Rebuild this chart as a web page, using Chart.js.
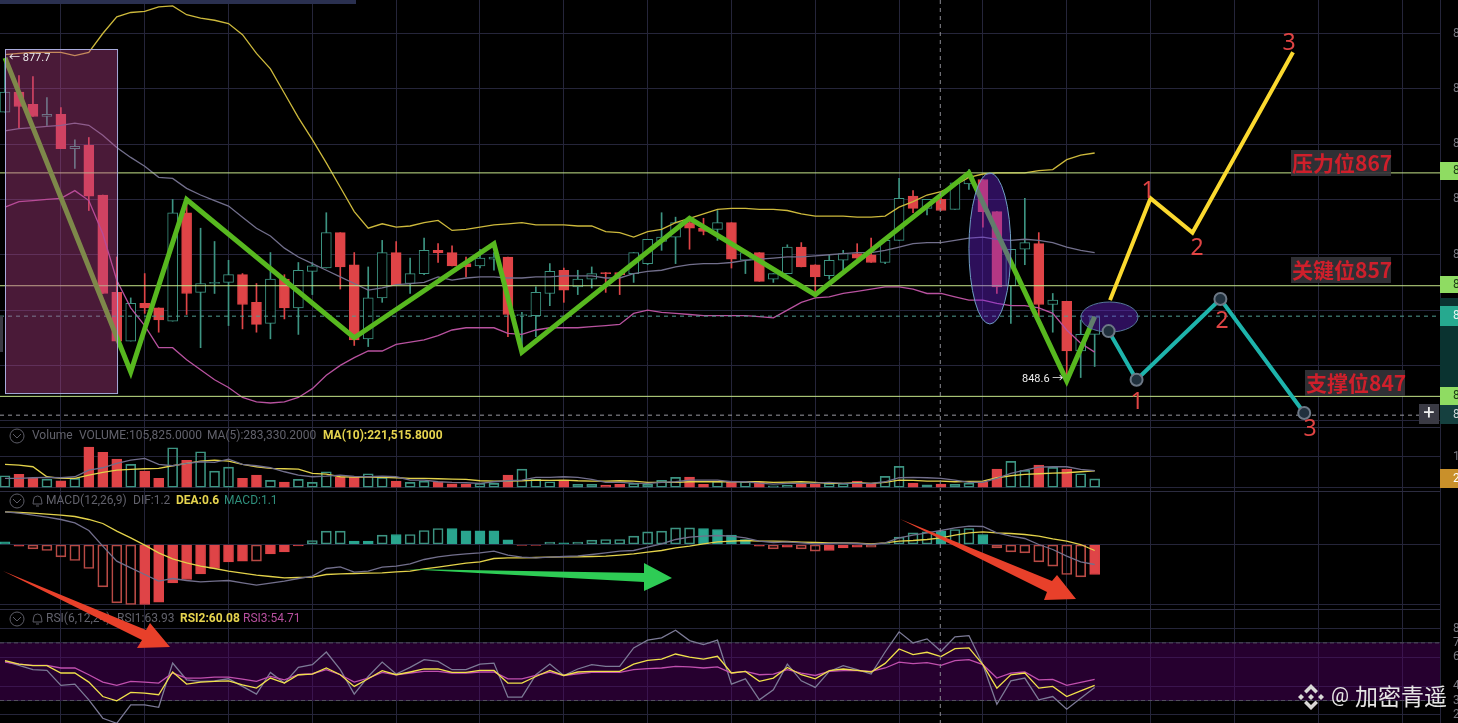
<!DOCTYPE html>
<html lang="zh">
<head>
    <meta charset="UTF-8">
    <title>K线图</title>
    <script src="https://cdn.jsdelivr.net/npm/chart.js"></script>
    <style>
        html, body { margin: 0; padding: 0; background: #000; overflow: hidden; }
        canvas { display: block; }
    </style>
</head>
<body>
    <canvas id="chart" width="1458" height="723"></canvas>
    <script>
        // candles
        const opens = [872.9,874.7,873.6,872.5,872.7,869.6,869.9,865.4,856.6,852.2,855.6,855.2,854.0,863.8,856.6,857.4,857.5,858.2,855.7,853.8,857.8,855.2,858.5,858.8,862.0,859.1,852.4,856.1,860.2,857.4,858.3,860.4,860.2,859.2,859.0,859.6,859.8,854.5,854.5,856.5,858.6,857.1,857.8,858.4,858.4,858.3,859.2,861.2,861.6,862.9,862.4,862.3,862.9,859.5,860.2,857.8,858.3,860.7,859.1,858.1,859.5,860.1,860.0,859.3,861.3,865.3,864.2,865.0,864.1,866.4,866.8,863.9,857.2,860.5,861.0,855.5,855.8,851.3,852.8];
        const closes = [874.7,873.4,872.5,872.7,869.6,869.8,865.3,856.5,852.2,855.6,855.2,854.1,863.8,856.5,857.4,857.5,858.2,855.5,853.7,857.8,855.2,858.6,859.0,862.0,858.9,852.3,856.1,860.2,857.3,858.3,860.4,860.2,859.0,858.9,859.7,859.8,854.6,854.6,856.6,858.5,856.8,857.8,858.3,858.3,858.2,860.2,861.4,861.6,862.9,862.4,862.1,862.9,859.6,860.2,857.6,858.3,860.7,858.9,858.0,859.5,860.1,859.7,859.3,861.3,865.1,864.2,865.0,864.0,866.5,867.0,863.9,857.1,860.5,861.1,855.5,855.9,851.3,852.8,854.4];
        const highs = [877.7,876.2,876.1,874.2,873.3,870.4,870.6,865.4,859.8,856.1,858.3,855.2,865.0,864.9,862.4,861.2,859.5,858.3,857.4,860.2,858.2,859.3,859.3,863.8,862.0,860.2,858.9,861.3,861.2,859.7,861.5,861.0,860.8,859.8,860.5,860.2,859.8,854.8,857.1,859.2,858.8,858.6,858.9,858.4,858.4,860.2,861.4,863.8,863.4,863.3,863.3,864.0,862.9,860.3,860.2,858.3,860.9,861.1,859.1,860.0,860.4,861.0,861.5,861.3,866.9,865.8,865.0,865.2,866.5,867.7,866.8,863.9,860.5,865.1,862.0,856.5,855.8,854.1,854.4];
        const lows = [872.9,871.5,872.5,871.7,869.6,867.8,864.0,856.5,852.2,852.2,854.7,853.0,854.0,854.6,851.6,856.5,853.6,853.3,853.0,852.4,854.2,852.8,856.4,858.8,856.9,851.8,851.7,855.7,857.3,856.5,858.2,859.3,859.0,858.0,858.8,858.6,852.6,851.6,852.6,855.4,855.7,856.4,857.0,856.6,856.4,857.5,859.1,860.4,859.2,860.5,861.8,861.3,858.8,858.3,857.6,857.5,858.3,858.9,856.5,857.8,858.6,859.2,859.3,859.2,861.3,863.8,863.6,864.0,864.1,865.9,862.5,856.5,853.8,859.1,854.4,853.0,848.7,848.9,849.9];

        // Bollinger bands
        const bollUpper = [878.1,878.2,878.3,878.3,878.3,878.0,878.3,880.0,881.5,881.9,882.0,882.4,882.5,881.7,881.4,881.2,880.9,879.9,878.2,876.8,874.6,872.4,870.4,868.3,866.1,863.9,862.4,862.8,862.5,862.6,862.9,863.1,862.2,862.3,862.5,862.7,862.8,862.9,862.7,862.7,862.7,862.6,862.6,862.1,862.0,861.6,862.1,862.3,862.9,863.3,863.7,864.1,864.2,864.2,864.1,864.1,864.0,863.7,863.5,863.5,863.5,863.4,863.4,863.5,864.3,864.8,865.4,865.7,866.3,867.0,867.3,867.4,867.4,867.4,867.6,867.7,868.6,869.0,869.2];
        const bollMid = [871.2,871.4,871.5,871.6,871.7,871.9,871.7,870.8,869.7,868.8,868.0,867.0,866.9,866.0,865.4,864.9,864.4,863.4,862.4,861.7,860.6,859.8,859.2,858.6,858.0,857.4,856.8,857.0,857.3,857.4,857.5,858.0,857.7,857.9,858.0,858.0,857.9,857.9,858.0,858.0,858.1,858.1,858.1,857.9,857.9,858.3,858.5,858.6,858.9,859.1,859.2,859.2,859.3,859.5,859.6,859.7,859.8,859.8,859.9,860.0,860.1,860.2,860.2,860.4,860.7,861.0,861.1,861.1,861.3,861.5,861.6,861.4,861.3,861.4,861.3,861.1,860.7,860.4,860.2];
        const bollLower = [864.3,864.8,864.9,865.0,865.1,865.8,864.9,861.9,857.7,855.2,853.6,851.6,851.6,850.5,849.6,848.7,848.0,847.1,846.7,846.6,846.7,847.1,847.9,849.1,850.0,850.7,851.3,851.3,851.9,852.1,852.3,852.7,853.2,853.4,853.4,853.4,852.9,852.8,853.2,853.4,853.4,853.4,853.5,853.6,853.7,854.7,855.0,854.8,854.7,854.6,854.5,854.5,854.5,854.5,854.4,854.3,855.0,855.7,856.1,856.2,856.5,856.7,856.9,857.1,857.1,856.9,856.5,856.5,856.2,855.9,855.9,855.6,855.4,855.4,855.2,854.7,853.2,852.0,851.2];

        // hand drawn lines on the chart: bar index and price
        const waveIndex = [0,9,13,25,35,37,49,58,69,76,78];
        const wavePrice = [877.8,849.4,865.0,852.5,861.0,851.2,863.3,856.4,867.4,848.6,854.4];
        const upIndex = [79.1,82,85,92.2];
        const upPrice = [855.9,865.1,862.0,878.3];
        const downIndex = [79,81,87,93];
        const downPrice = [853.1,848.7,856.0,845.7];
        const levels = [867.4,857.2,847.2];
        const levelNames = ['压力位867','关键位857','支撑位847'];
        const lastPrice = [854.45];
        const crossPrice = [845.5];
        const crossIndex = [66.95];

        // volume panel
        const volumes = [144000,160000,120000,104000,84000,112000,488000,424000,344000,280000,200000,112000,480000,328000,432000,200000,248000,112000,152000,88000,68000,100000,64000,192000,128000,128000,168000,124000,80000,64000,80000,72000,48000,44000,52000,52000,152000,224000,100000,72000,92000,40000,40000,32000,40000,52000,40000,88000,124000,128000,40000,80000,80000,72000,64000,24000,32000,44000,44000,52000,52000,80000,52000,136000,256000,56000,36000,44000,40000,56000,72000,224000,316000,208000,272000,244000,224000,168000,105825];
        const volMa5 = [112000,112000,120000,124000,120000,132000,212000,240000,292000,332000,352000,280000,264000,292000,312000,304000,344000,280000,264000,240000,192000,152000,132000,140000,152000,136000,132000,140000,132000,92000,92000,72000,64000,60000,52000,72000,84000,92000,124000,124000,132000,124000,100000,64000,64000,56000,52000,64000,72000,92000,92000,92000,72000,72000,56000,44000,52000,52000,56000,64000,52000,52000,52000,72000,120000,124000,120000,112000,92000,64000,64000,112000,172000,212000,248000,252000,252000,220000,204000];
        const volMa10 = [280000,272000,252000,132000,112000,112000,152000,184000,212000,220000,228000,232000,264000,292000,320000,332000,320000,280000,252000,232000,228000,224000,172000,164000,132000,128000,128000,124000,120000,112000,112000,108000,104000,100000,84000,80000,80000,84000,92000,88000,92000,84000,80000,80000,84000,80000,64000,64000,64000,72000,72000,72000,72000,72000,72000,64000,68000,72000,64000,52000,52000,60000,52000,64000,92000,88000,80000,80000,72000,76000,80000,120000,144000,160000,168000,176000,180000,192000,204000];

        // MACD panel
        const macdBars = [0.13,-0.08,-0.22,-0.3,-0.62,-0.8,-1.2,-2.12,-2.92,-3,-3,-2.88,-1.92,-1.75,-1.47,-1.2,-0.87,-0.83,-0.83,-0.47,-0.37,-0.07,0.2,0.67,0.67,0.17,0.17,0.47,0.5,0.5,0.7,0.8,0.8,0.68,0.68,0.68,0.23,-0.05,-0.05,0.12,0.08,0.12,0.22,0.25,0.25,0.42,0.63,0.67,0.83,0.83,0.8,0.75,0.47,0.25,-0.08,-0.22,-0.13,-0.22,-0.33,-0.3,-0.17,-0.13,-0.13,0.05,0.37,0.58,0.63,0.67,0.75,0.8,0.5,-0.17,-0.37,-0.42,-0.87,-1.08,-1.5,-1.62,-1.5];
        const macdSolid = [1,1,0,0,0,0,0,0,0,0,1,1,1,1,1,1,1,1,0,1,1,1,0,0,0,1,1,0,1,0,0,0,1,1,1,1,1,1,1,0,1,0,0,0,0,0,0,0,0,0,1,1,1,1,1,0,1,0,0,1,1,1,0,1,0,0,0,1,0,0,1,0,0,0,0,0,0,0,1];
        const macdDif = [1.63,1.57,1.47,1.37,1.25,1.08,0.7,-0.08,-0.83,-1.17,-1.5,-1.83,-1.7,-1.8,-1.87,-1.83,-1.8,-1.92,-2.03,-1.93,-1.83,-1.7,-1.58,-1.2,-1.12,-1.38,-1.33,-1.13,-1.08,-0.97,-0.75,-0.62,-0.53,-0.47,-0.42,-0.33,-0.53,-0.63,-0.67,-0.63,-0.6,-0.57,-0.5,-0.42,-0.33,-0.3,-0.13,0.03,0.25,0.37,0.42,0.45,0.42,0.33,0.17,0.1,0.13,0.08,0.03,0.05,0.08,0.05,0,0.08,0.33,0.47,0.58,0.7,0.83,0.92,0.9,0.58,0.42,0.3,0,-0.25,-0.58,-0.87,-1];
        const macdDea = [1.63,1.6,1.57,1.52,1.47,1.4,1.25,1.05,0.67,0.33,-0.03,-0.42,-0.72,-0.92,-1.08,-1.2,-1.33,-1.43,-1.53,-1.6,-1.67,-1.65,-1.63,-1.5,-1.47,-1.45,-1.43,-1.42,-1.37,-1.33,-1.22,-1.13,-1.03,-0.93,-0.87,-0.7,-0.67,-0.67,-0.65,-0.63,-0.62,-0.62,-0.6,-0.58,-0.53,-0.47,-0.38,-0.3,-0.17,-0.08,0.03,0.13,0.17,0.2,0.17,0.17,0.15,0.12,0.1,0.08,0.08,0.07,0.03,0.08,0.17,0.2,0.25,0.33,0.47,0.58,0.63,0.58,0.55,0.5,0.42,0.28,0.17,0,-0.3];

        // RSI panel
        const rsi1 = [57.2,54.4,51.4,50.9,40.5,41.4,30.5,17.7,14.2,27,27,25.3,56,44.4,43.3,43.7,45.1,39.8,34.4,49.5,42.1,53,54.9,63.7,51.4,34.4,46.7,56.7,48.4,53,58.4,57.2,51.4,51.4,55.3,56,32.3,32.3,47.9,55.3,47.4,51.9,54.9,53.7,53.7,66.5,71.9,73.5,78.8,71.6,68.8,71.9,41.4,45.1,30.5,37.4,55.3,43.7,39.1,50.2,54.2,51.4,48.4,63.7,77.7,70,72.8,64.2,74.2,75.1,54.9,27.4,43.7,45.6,30.5,32.8,24,31.6,39.1];
        const rsi2 = [57.7,55.3,54.2,54.2,49.1,49.1,42.8,32.8,29.8,35.6,35.1,34,49.8,41.4,42.8,43.3,43.7,40.9,38.6,45.6,42.1,47.9,48.4,52.6,47.9,39.8,45.1,50.7,47.9,49.8,51.9,51.9,49.5,49.5,50.9,50.9,42.1,42.1,46.7,50.9,47.4,49.8,50.2,50.2,50.2,55.3,57.9,58.8,62.3,60.2,58.8,60.7,49.1,50.2,43.3,45.6,53,47.9,45.1,50.7,51.9,50.9,49.8,55.8,65.8,61.9,63.5,60.5,66,66.5,54.9,38.6,47.9,49.1,38.6,39.8,32.8,36.7,40.5];
        const rsi3 = [56.7,55.3,54.4,54.4,52.6,52.6,47.9,42.8,40.5,43.3,42.8,42.1,49.1,45.6,45.6,46.3,46.3,44.9,43.3,46.7,44.4,47.9,48.6,51.4,47.9,42.8,45.6,49.5,47.9,49.1,50.2,50.2,49.1,49.1,49.8,49.8,45.1,45.1,47.4,49.8,47.4,48.6,49.5,49.5,49.5,51.4,52.1,52.6,53.7,53.3,52.6,53.3,49.1,50.2,47.9,48.4,51.4,49.1,47.4,50.2,50.7,50.7,50.2,52.6,56.7,55.6,56.3,54.4,57.7,58.4,54.9,45.6,49.1,49.8,44.4,44.7,40.5,42.6,44.7];

        // axis ticks
        const xTicks = [4,10,16,22,28,34,40,46,52,58,64,70,76,82,88,94,100];
        const priceTicks = [880,875,870,865,860,855,850,845];
        const volumeTicks = [372000,0];
        const volumeTickLabels = ['1',''];
        const macdTicks = [0,-3];
        const rsiTicks = [80,70,60,40,30,20];

        const GREEN = '#3d9482', GREEN_FILL = '#2aa58f', RED = '#df4447';
        const GRID = '#25253a';
        const xMin = -0.358, xMax = 102.72;
        const FONT = 'Roboto, "Noto Sans CJK SC", sans-serif';
        const CJK = '"Noto Sans CJK SC", sans-serif';

        const isUp = i => closes[i] >= opens[i];
        const pick = (arr, test) => arr.map((v, i) => ({x: i, y: v})).filter(p => test(p.x));
        const candleBody = opens.map((o, i) => [o, closes[i]]);
        const candleWick = lows.map((l, i) => [l, highs[i]]);
        const series = arr => arr.map((v, i) => ({x: i, y: v}));
        const hline = v => [{x: xMin, y: v}, {x: xMax, y: v}];

        function bars(yAxisID, data, color, fill, order, thickness) {
            return {type: 'bar', yAxisID, data, backgroundColor: fill, borderColor: color,
                borderWidth: thickness > 2 ? 1 : 0, borderSkipped: false, barThickness: thickness, grouped: false, order};
        }
        function line(yAxisID, data, color, width, order, extra) {
            return Object.assign({type: 'line', yAxisID, data, borderColor: color, borderWidth: width,
                pointRadius: 0, tension: 0, fill: false, order}, extra || {});
        }

        const datasets = [
            bars('y', pick(candleWick, isUp), GREEN, GREEN, 60, 1),
            bars('y', pick(candleWick, i => !isUp(i)), RED, RED, 60, 1),
            bars('y', pick(candleBody, isUp), GREEN, '#000', 55, 10),
            bars('y', pick(candleBody, i => !isUp(i)), RED, RED, 55, 10),
            line('y', series(bollUpper), '#cdb93c', 1.3, 50),
            line('y', series(bollMid), '#726f8c', 1.3, 50),
            line('y', series(bollLower), '#b8529f', 1.3, 50),
            line('y', hline(lastPrice[0]), '#4f9e92', 1, 45, {borderDash: [4, 4]}),
            line('y', hline(crossPrice[0]), '#9a9aa2', 1, 45, {borderDash: [4, 4]})
        ];
        levels.forEach(v => datasets.push(line('y', hline(v), '#c6e58a', 1, 40)));
        datasets.push(line('y', waveIndex.map((x, i) => ({x, y: wavePrice[i]})), '#57b81f', 5, 20, {label: 'wave', borderJoinStyle: 'miter'}));
        datasets.push(line('y', upIndex.map((x, i) => ({x, y: upPrice[i]})), '#fbd92f', 4, 10, {borderJoinStyle: 'miter'}));
        datasets.push(line('y', downIndex.map((x, i) => ({x, y: downPrice[i]})), '#1eb4ac', 4, 10, {
            pointRadius: 6, pointBackgroundColor: '#20303d', pointBorderColor: '#6d7886', pointBorderWidth: 2}));

        datasets.push(bars('yVol', pick(volumes, isUp), GREEN, 'transparent', 30, 10));
        datasets.push(bars('yVol', pick(volumes, i => !isUp(i)), RED, RED, 30, 10));
        datasets.push(line('yVol', series(volMa5), '#726f8c', 1.3, 25));
        datasets.push(line('yVol', series(volMa10), '#e3d24a', 1.3, 25));

        const macdPos = i => macdBars[i] >= 0;
        datasets.push(bars('yMacd', pick(macdBars, i => macdPos(i) && macdSolid[i]), GREEN_FILL, GREEN_FILL, 30, 10));
        datasets.push(bars('yMacd', pick(macdBars, i => macdPos(i) && !macdSolid[i]), GREEN, 'transparent', 30, 10));
        datasets.push(bars('yMacd', pick(macdBars, i => !macdPos(i) && macdSolid[i]), RED, RED, 30, 10));
        datasets.push(bars('yMacd', pick(macdBars, i => !macdPos(i) && !macdSolid[i]), '#b84a45', 'transparent', 30, 10));
        datasets.push(line('yMacd', series(macdDif), '#726f8c', 1.3, 25));
        datasets.push(line('yMacd', series(macdDea), '#e3d24a', 1.3, 25));

        datasets.push(line('yRsi', series(rsi1), '#7c7a96', 1.3, 25));
        datasets.push(line('yRsi', series(rsi3), '#c04fae', 1.3, 24));
        datasets.push(line('yRsi', series(rsi2), '#f0e04a', 1.3, 23));

        function polygon(ctx, pts, color) {
            ctx.fillStyle = color;
            ctx.beginPath();
            pts.forEach((p, i) => i ? ctx.lineTo(p[0], p[1]) : ctx.moveTo(p[0], p[1]));
            ctx.closePath();
            ctx.fill();
        }

        function drawEllipse(chart, idx, price, rIdx, rPrice, fill, stroke) {
            const {ctx, scales} = chart;
            const cx = scales.x.getPixelForValue(idx), cy = scales.y.getPixelForValue(price);
            const rx = Math.abs(scales.x.getPixelForValue(idx + rIdx) - cx);
            const ry = Math.abs(scales.y.getPixelForValue(price + rPrice) - cy);
            ctx.beginPath();
            ctx.ellipse(cx, cy, rx, ry, 0, 0, Math.PI * 2);
            ctx.fillStyle = fill;
            ctx.fill();
            ctx.strokeStyle = stroke;
            ctx.lineWidth = 1;
            ctx.stroke();
        }

        // the tinted shapes sit on top of the candles and the green wave line
        const shapes = {
            id: 'shapes',
            afterDatasetDraw(chart, args) {
                if (chart.data.datasets[args.index].label !== 'wave') return;
                const {ctx, scales} = chart;
                const l = scales.x.getPixelForValue(0), r = scales.x.getPixelForValue(8.02);
                const t = scales.y.getPixelForValue(878.6), b = scales.y.getPixelForValue(847.5);
                ctx.save();
                ctx.fillStyle = 'rgba(185,65,140,0.4)';
                ctx.fillRect(l, t, r - l, b - t);
                ctx.strokeStyle = '#a9abdc';
                ctx.lineWidth = 1;
                ctx.strokeRect(l + 0.5, t + 0.5, r - l, b - t);
                drawEllipse(chart, 70.5, 860.57, 1.5, 6.83, 'rgba(112,37,225,0.4)', '#6f9fc4');
                drawEllipse(chart, 79.06, 854.37, 2.04, 1.36, 'rgba(112,37,225,0.4)', '#56799c');
                ctx.restore();
            }
        };

        // RSI band goes under the lines, over the grid
        const rsiBand = {
            id: 'rsiBand',
            beforeDatasetsDraw(chart) {
                const {ctx, scales, chartArea} = chart;
                const t = scales.yRsi.getPixelForValue(70), b = scales.yRsi.getPixelForValue(30);
                ctx.save();
                ctx.fillStyle = 'rgba(85,0,105,0.45)';
                ctx.fillRect(chartArea.left, t, chartArea.right - chartArea.left, b - t);
                ctx.strokeStyle = '#55505f';
                ctx.setLineDash([4, 3]);
                ctx.beginPath();
                ctx.moveTo(chartArea.left, t); ctx.lineTo(chartArea.right, t);
                ctx.moveTo(chartArea.left, b); ctx.lineTo(chartArea.right, b);
                ctx.stroke();
                ctx.restore();
            }
        };

        function text(ctx, str, x, y, color, font, align) {
            ctx.font = font;
            ctx.fillStyle = color;
            ctx.textAlign = align || 'left';
            ctx.textBaseline = 'middle';
            ctx.fillText(str, x, y);
        }

        function panelHeader(ctx, y, bell) {
            ctx.strokeStyle = '#5c5c66';
            ctx.lineWidth = 1;
            ctx.beginPath();
            ctx.arc(17, y, 7, 0, Math.PI * 2);
            ctx.moveTo(13, y - 2); ctx.lineTo(17, y + 2); ctx.lineTo(21, y - 2);
            ctx.stroke();
            if (bell) {
                ctx.beginPath();
                ctx.arc(37.5, y - 1, 4, Math.PI, 0);
                ctx.lineTo(42, y + 3); ctx.lineTo(33, y + 3); ctx.closePath();
                ctx.moveTo(36, y + 5); ctx.lineTo(39, y + 5);
                ctx.stroke();
            }
        }

        function priceTag(ctx, top, bottom, color, glyph, glyphColor) {
            ctx.fillStyle = color;
            ctx.fillRect(1440, top, 18, bottom - top);
            text(ctx, glyph, 1453, (top + bottom) / 2, glyphColor, '12px ' + FONT);
        }

        const annotations = {
            id: 'annotations',
            afterDraw(chart) {
                const {ctx, scales} = chart;
                ctx.save();

                // crosshair
                const cx = scales.x.getPixelForValue(crossIndex[0]);
                ctx.strokeStyle = '#8d8d95';
                ctx.lineWidth = 1;
                ctx.setLineDash([4, 4]);
                ctx.beginPath();
                ctx.moveTo(cx, 0); ctx.lineTo(cx, 723);
                ctx.stroke();
                ctx.setLineDash([]);

                // panel dividers
                ctx.strokeStyle = '#2c2c40';
                [427.5, 491.5, 609.5].forEach(y => {
                    ctx.beginPath(); ctx.moveTo(0, y); ctx.lineTo(1440, y); ctx.stroke();
                });

                // toolbar leftovers
                ctx.fillStyle = '#2a3050';
                ctx.fillRect(0, 0, 356, 4);
                ctx.fillStyle = '#3a3a44';
                ctx.fillRect(0, 316, 3, 36);

                // price tags on the right
                ctx.fillStyle = '#0a3330';
                ctx.fillRect(1440, 298, 18, 108);
                priceTag(ctx, 162, 180, '#8fdc62', '8', '#1c3a14');
                priceTag(ctx, 276, 293, '#8fdc62', '8', '#1c3a14');
                priceTag(ctx, 306, 326, '#26a98f', '8', '#e8f5f2');
                priceTag(ctx, 387, 405, '#8fdc62', '8', '#1c3a14');
                priceTag(ctx, 405, 424, '#15403f', '8', '#d0d8d8');
                priceTag(ctx, 469, 488, '#c9902a', '2', '#fff');
                ctx.fillStyle = '#3a3a44';
                ctx.fillRect(1419, 404, 20, 20);
                text(ctx, '+', 1429, 414, '#eee', '20px ' + FONT, 'center');

                // level names
                const boxes = [[1291, 150], [1291, 257], [1305, 370]];
                levelNames.forEach((name, i) => {
                    ctx.fillStyle = 'rgba(52,52,58,0.9)';
                    ctx.fillRect(boxes[i][0], boxes[i][1], 100, 26);
                    text(ctx, name, boxes[i][0] + 1, boxes[i][1] + 13, '#cf1f2b', 'bold 21px ' + CJK);
                });

                // wave numbers
                const digits = [['1', 1148, 191], ['2', 1197, 248], ['3', 1289, 43], ['1', 1137, 402], ['2', 1222, 321], ['3', 1310, 429]];
                digits.forEach(d => text(ctx, d[0], d[1], d[2], '#e04444', '23px "Noto Sans", sans-serif', 'center'));

                text(ctx, '← 877.7', 9, 58, '#eee', '11px ' + FONT);
                text(ctx, '848.6 →', 1022, 379, '#eee', '11px ' + FONT);

                // panel headers
                panelHeader(ctx, 436, false);
                text(ctx, 'Volume', 32, 436, '#62626c', '12px ' + FONT);
                text(ctx, 'VOLUME:105,825.0000', 79, 436, '#62626c', '12px ' + FONT);
                text(ctx, 'MA(5):283,330.2000', 207, 436, '#62626c', '12px ' + FONT);
                text(ctx, 'MA(10):221,515.8000', 323, 436, '#e6d44e', 'bold 12px ' + FONT);
                panelHeader(ctx, 501, true);
                text(ctx, 'MACD(12,26,9)', 46, 501, '#62626c', '12px ' + FONT);
                text(ctx, 'DIF:1.2', 133, 501, '#62626c', '12px ' + FONT);
                text(ctx, 'DEA:0.6', 176, 501, '#e6d44e', 'bold 12px ' + FONT);
                text(ctx, 'MACD:1.1', 224, 501, '#2f8f7c', '12px ' + FONT);
                panelHeader(ctx, 619, true);
                text(ctx, 'RSI(6,12,24)', 46, 619, '#62626c', '12px ' + FONT);
                text(ctx, 'RSI1:63.93', 117, 619, '#62626c', '12px ' + FONT);
                text(ctx, 'RSI2:60.08', 180, 619, '#e6d44e', 'bold 12px ' + FONT);
                text(ctx, 'RSI3:54.71', 243, 619, '#b8509f', '12px ' + FONT);

                // arrows
                polygon(ctx, [[3, 571], [146, 630], [150, 623], [170, 647], [137, 648], [142, 640]], '#e8402a');
                polygon(ctx, [[900, 519], [1052, 581], [1057, 575], [1076, 599], [1044, 600], [1047, 592]], '#e8402a');
                polygon(ctx, [[404, 569], [644, 573], [644, 563], [672, 578], [644, 591], [644, 582]], '#2ecc55');

                // watermark
                const lx = 1311, ly = 697;
                const logo = '#d9d9d6';
                polygon(ctx, [[lx, ly - 13], [lx + 7, ly - 6], [lx + 4.5, ly - 3.5], [lx, ly - 8], [lx - 4.5, ly - 3.5], [lx - 7, ly - 6]], logo);
                polygon(ctx, [[lx, ly + 13], [lx + 7, ly + 6], [lx + 4.5, ly + 3.5], [lx, ly + 8], [lx - 4.5, ly + 3.5], [lx - 7, ly + 6]], logo);
                polygon(ctx, [[lx - 13, ly], [lx - 10, ly - 3], [lx - 7, ly], [lx - 10, ly + 3]], logo);
                polygon(ctx, [[lx + 13, ly], [lx + 10, ly - 3], [lx + 7, ly], [lx + 10, ly + 3]], logo);
                polygon(ctx, [[lx, ly - 3], [lx + 3, ly], [lx, ly + 3], [lx - 3, ly]], logo);
                text(ctx, '@', 1331, 697, '#e6e6e4', '20px ' + FONT);
                text(ctx, '加密青遥', 1355, 696, '#e6e6e4', '23px ' + CJK);
                ctx.restore();
            }
        };

        function paneAxis(stackWeight, weight, min, max, ticks, label) {
            return {
                type: 'linear', position: 'right', stack: 'panes', stackWeight, weight, min, max,
                afterBuildTicks: scale => { scale.ticks = ticks.map(value => ({value})); },
                afterFit: scale => { scale.width = 18; scale.paddingTop = 0; scale.paddingBottom = 0; },
                grid: {color: GRID, drawTicks: false},
                border: {color: GRID},
                ticks: {color: '#77777f', font: {size: 12, family: 'Roboto'}, padding: 13, autoSkip: false, callback: label}
            };
        }

        new Chart(document.getElementById('chart'), {
            data: {datasets},
            plugins: [rsiBand, shapes, annotations],
            options: {
                responsive: false,
                animation: false,
                events: [],
                devicePixelRatio: 1,
                layout: {padding: 0, autoPadding: false},
                plugins: {legend: {display: false}, tooltip: {enabled: false}},
                scales: {
                    x: {
                        type: 'linear', min: xMin, max: xMax, offset: false,
                        afterBuildTicks: scale => { scale.ticks = xTicks.map(value => ({value})); },
                        afterFit: scale => { scale.height = 0; },
                        grid: {color: GRID, drawTicks: false, offset: false},
                        border: {display: false},
                        ticks: {display: false}
                    },
                    y: paneAxis(427, 1, 844.43, 883.03, priceTicks, v => String(v)[0]),
                    yVol: paneAxis(64.5, 2, -45000, 729000, volumeTicks, v => volumeTickLabels[volumeTicks.indexOf(v)]),
                    yMacd: paneAxis(118, 3, -3.25, 2.65, macdTicks, () => ''),
                    yRsi: paneAxis(113.5, 4, 14.4, 93.2, rsiTicks, v => String(v)[0])
                }
            }
        });
    </script>
</body>
</html>
